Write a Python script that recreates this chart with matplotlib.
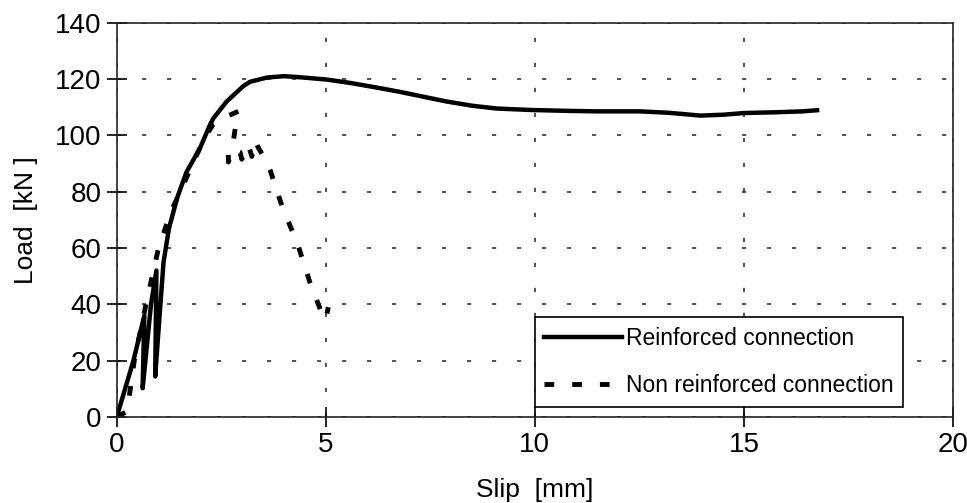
"""Load-slip curves for reinforced and non reinforced connections."""

import matplotlib
matplotlib.use("Agg")
import matplotlib.pyplot as plt

plt.rcParams["font.family"] = ["Liberation Sans", "DejaVu Sans"]

# slip [mm] / load [kN]
REIN_SLIP = [0.0, 0.40, 0.66, 0.62, 0.72, 0.82, 0.95, 0.92, 1.02, 1.12,
             1.25, 1.45, 1.67, 1.99, 2.23, 2.31, 2.63, 3.03, 3.19,
             3.59, 4.00, 4.39, 5.02, 5.58, 6.20, 6.78, 7.30, 7.89, 8.50,
             9.09, 9.89, 10.70, 11.48, 12.51, 13.20, 13.96, 14.50, 14.99,
             15.80, 16.40, 16.75]
REIN_LOAD = [0.0, 20.0, 36.0, 10.2, 25.0, 40.0, 52.0, 14.4, 35.0, 55.0,
             67.0, 78.0, 87.0, 95.4, 103.7, 106.0, 112.0, 117.5, 119.0,
             120.5, 121.0, 120.6, 119.8, 118.6, 117.0, 115.4, 113.8, 112.0,
             110.5, 109.5, 109.0, 108.7, 108.5, 108.5, 108.0, 107.0, 107.3,
             107.9, 108.2, 108.5, 108.9]

NONREIN_SLIP = [0.0, 0.25, 0.42, 0.70, 1.00, 1.30, 1.55, 1.85, 2.10, 2.31,
                2.60, 2.91, 2.85, 2.79, 2.67, 2.67, 2.79, 2.95, 2.99, 3.15,
                3.23, 3.31, 3.39, 3.55, 3.67, 3.95, 4.34, 4.62, 4.90, 5.00,
                5.06]
NONREIN_LOAD = [0.0, 2.0, 20.0, 40.0, 60.0, 73.0, 81.0, 91.0, 99.0, 104.0,
                106.5, 108.5, 104.0, 98.0, 95.5, 90.5, 95.0, 94.0, 91.5, 96.5,
                92.5, 98.0, 95.5, 91.5, 87.6, 75.0, 60.8, 47.8, 37.0, 34.6,
                39.0]

X_TICKS = [0, 5, 10, 15, 20]
Y_TICKS = [0, 20, 40, 60, 80, 100, 120, 140]


def main() -> None:
    fig = plt.figure(figsize=(9.67, 5.03), dpi=100)
    ax = fig.add_axes([0.1207, 0.171, 0.8648, 0.784])

    ax.plot(REIN_SLIP, REIN_LOAD, color="black", lw=3.2,
            solid_joinstyle="round", label="Reinforced connection")
    ax.plot(NONREIN_SLIP, NONREIN_LOAD, color="black", lw=3.5,
            dashes=(2.0, 3.7), label="Non reinforced connection")

    ax.set_xlim(0, 20)
    ax.set_ylim(0, 140)
    ax.set_xticks(X_TICKS)
    ax.set_yticks(Y_TICKS)
    ax.tick_params(direction="inout", length=14, width=1.2, labelsize=20,
                   colors="black", pad=4)

    ax.grid(True, color="#333333", lw=1.2, dashes=(2.5, 12.5))
    for side in ("top", "right", "left", "bottom"):
        ax.spines[side].set_linewidth(1.2)
        ax.spines[side].set_color("#222222")

    ax.set_xlabel("Slip  [mm]", fontsize=19, labelpad=14)
    ax.set_ylabel("Load  [kN ]", fontsize=19, labelpad=12)

    leg = ax.legend(loc="lower left", bbox_to_anchor=(0.5, 0.026),
                    fontsize=16.5, frameon=True, fancybox=False,
                    framealpha=1, edgecolor="black", borderpad=0.42,
                    labelspacing=1.05, handlelength=3.4, handletextpad=0.15,
                    borderaxespad=0)
    leg.get_frame().set_linewidth(1.2)

    fig.savefig("out.png", dpi=100)
    plt.close(fig)


if __name__ == "__main__":
    main()
